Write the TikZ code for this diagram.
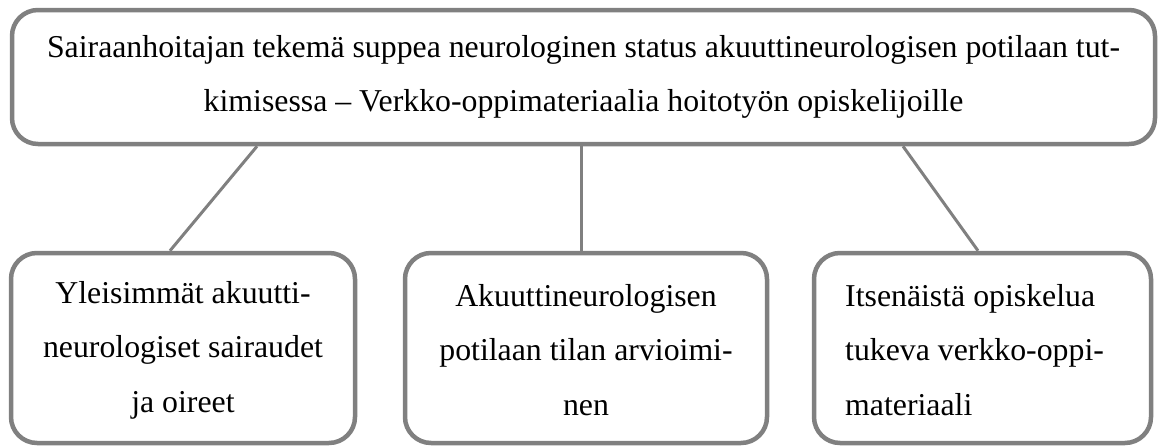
\documentclass[tikz,border=0pt]{standalone}
\usepackage{fontspec}
\setmainfont{Liberation Serif}
\definecolor{boxgray}{RGB}{128,128,128}
\begin{document}
\begin{tikzpicture}[x=1pt,y=-1pt,
  box/.style={draw=boxgray, line width=4.5pt, rounded corners=26pt, fill=white, inner sep=0pt},
  link/.style={draw=boxgray, line width=3pt},
  txt/.style={font=\fontsize{31.8}{54.5}\selectfont, inner sep=0pt}]
\useasboundingbox (0,0) rectangle (1159,447);
\node[box, minimum width=1143pt, minimum height=134pt] (top) at (583.5,77) {};
\node[box, minimum width=344pt, minimum height=190pt] (b1) at (183,348) {};
\node[box, minimum width=362pt, minimum height=190pt] (b2) at (586,348) {};
\node[box, minimum width=337pt, minimum height=190pt] (b3) at (982.5,348) {};
\draw[link] ([xshift=-326.5pt]top.south) -- ([xshift=-13pt]b1.north);
\draw[link] ([xshift=-2.5pt]top.south) -- ([xshift=-5pt]b2.north);
\draw[link] ([xshift=319.5pt]top.south) -- ([xshift=-4.5pt]b3.north);
\node[txt, align=center] (t0) at (583.5,77) {Sairaanhoitajan tekemä suppea neurologinen status akuuttineurologisen potilaan tut-\\kimisessa – Verkko-oppimateriaalia hoitotyön opiskelijoille};
\node[txt, align=center] (t1) at (183,350) {Yleisimmät akuutti-\\neurologiset sairaudet\\ja oireet};
\node[txt, align=center] (t2) at (586,350) {Akuuttineurologisen\\potilaan tilan arvioimi-\\nen};
\node[txt, align=left, anchor=west] (t3) at (845,350) {Itsenäistä opiskelua\\tukeva verkko-oppi-\\materiaali};
\end{tikzpicture}
\end{document}
